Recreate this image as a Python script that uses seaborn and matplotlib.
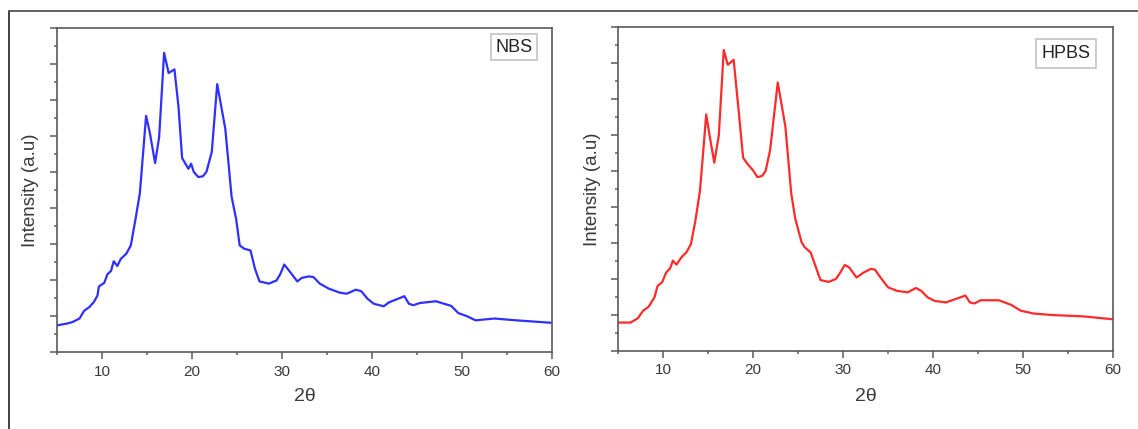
import numpy as np
import pandas as pd
import matplotlib
matplotlib.use("Agg")
import matplotlib.pyplot as plt
import seaborn as sns
from matplotlib.lines import Line2D
from matplotlib.ticker import MultipleLocator

# ---- data ----
nbs_x = [5, 6.1, 6.7, 7.5, 8.0, 8.6, 9.1, 9.5, 9.65, 10.25, 10.6, 11.0, 11.3, 11.7, 12.1,
         12.7, 13.2, 13.7, 14.2, 14.5, 14.9, 15.3, 15.9, 16.35, 16.9, 17.4, 18.05, 18.5,
         18.9, 19.6, 19.9, 20.2, 20.7, 21.2, 21.6, 22.2, 22.8, 23.7, 24.4, 24.9, 25.3,
         25.8, 26.5, 27.0, 27.5, 28.55, 29.4, 29.8, 30.25, 31.0, 31.7, 32.2, 33.0, 33.5,
         34.2, 35.2, 36.4, 37.2, 38.2, 38.8, 39.5, 40.2, 41.3, 41.9, 42.7, 43.6, 44.1,
         44.6, 45.3, 47.1, 48.8, 49.6, 50.6, 51.5, 53.6, 56.0, 60]
nbs_y = [0.74, 0.79, 0.83, 0.93, 1.14, 1.25, 1.39, 1.57, 1.82, 1.92, 2.16, 2.25, 2.52, 2.39,
         2.59, 2.73, 2.96, 3.66, 4.40, 5.32, 6.56, 6.11, 5.25, 5.97, 8.31, 7.75, 7.85, 6.81,
         5.39, 5.09, 5.23, 5.00, 4.86, 4.88, 5.00, 5.56, 7.44, 6.20, 4.31, 3.70, 2.96, 2.87,
         2.82, 2.31, 1.96, 1.90, 1.99, 2.16, 2.43, 2.19, 1.96, 2.06, 2.10, 2.08, 1.90, 1.76,
         1.65, 1.62, 1.73, 1.69, 1.48, 1.34, 1.27, 1.38, 1.46, 1.55, 1.34, 1.30, 1.36, 1.41,
         1.28, 1.08, 0.99, 0.88, 0.93, 0.88, 0.81]

hpbs_x = [5, 6.4, 7.2, 7.8, 8.4, 9.05, 9.4, 9.9, 10.35, 10.8, 11.1, 11.5, 12.1, 12.6, 13.1,
          13.6, 14.1, 14.45, 14.8, 15.2, 15.7, 16.2, 16.75, 17.2, 17.85, 18.4, 18.9, 19.4,
          20.0, 20.5, 21.0, 21.4, 21.9, 22.75, 23.6, 24.25, 24.7, 25.4, 25.75, 26.4, 27.0,
          27.5, 28.4, 29.2, 29.6, 30.2, 30.7, 31.5, 32.3, 33.1, 33.55, 34.2, 35.0, 36.0,
          37.2, 38.1, 38.7, 39.4, 40.2, 41.45, 42.7, 43.6, 44.1, 44.6, 45.3, 47.3, 48.7,
          49.75, 51.2, 53.2, 56.8, 60]
hpbs_y = [0.79, 0.79, 0.91, 1.12, 1.23, 1.49, 1.81, 1.91, 2.18, 2.30, 2.51, 2.40, 2.62, 2.74,
          2.97, 3.62, 4.44, 5.48, 6.57, 5.95, 5.23, 5.99, 8.36, 7.95, 8.09, 6.69, 5.37, 5.19,
          5.02, 4.83, 4.86, 5.00, 5.58, 7.46, 6.23, 4.37, 3.67, 3.02, 2.88, 2.74, 2.32, 1.97,
          1.92, 2.00, 2.14, 2.39, 2.32, 2.04, 2.18, 2.28, 2.26, 2.03, 1.77, 1.67, 1.63, 1.75,
          1.67, 1.49, 1.39, 1.35, 1.46, 1.54, 1.35, 1.32, 1.41, 1.41, 1.28, 1.12, 1.04, 1.00,
          0.96, 0.88]

x_ticks = [10, 20, 30, 40, 50, 60]
x_label = "2θ"
y_label = "Intensity (a.u)"
names = ["NBS", "HPBS"]
colors = ["#2f2fff", "#ff2a2a"]

sns.set_style("ticks")
plt.rcParams['font.family'] = ['Liberation Sans', 'DejaVu Sans']

W, H = 1138, 429
fig = plt.figure(figsize=(W / 100, H / 100), dpi=100)
# (left, right, top, bottom) in pixels
frames = [(57, 552, 28, 352), (618, 1113, 27, 351)]
label_pos = [(0.923, 0.94), (0.905, 0.917)]
label_pad = [0.25, 0.33]
ylab_x = [-0.036, -0.034]

datasets = [(nbs_x, nbs_y), (hpbs_x, hpbs_y)]
spine_col = "#5a5a5a"
text_col = "#3a3a3a"
for i, ((xs, ys), name, col, fr) in enumerate(zip(datasets, names, colors, frames)):
    l, r, t, b = fr
    ax = fig.add_axes([l / W, 1 - b / H, (r - l) / W, (b - t) / H])
    df = pd.DataFrame({"x": xs, "y": ys})
    sns.lineplot(data=df, x="x", y="y", ax=ax, color=col, lw=1.6, sort=False)
    ax.set_xlim(5, 60)
    ax.set_ylim(0, 9)
    ax.set_xticks(x_ticks)
    ax.xaxis.set_minor_locator(MultipleLocator(5))
    ax.yaxis.set_major_locator(MultipleLocator(1))
    ax.yaxis.set_minor_locator(MultipleLocator(0.5))
    ax.tick_params(axis="y", labelleft=False)
    ax.tick_params(axis="both", which="major", direction="out", length=5, width=1.1,
                   color=spine_col, labelsize=11, labelcolor=text_col, pad=4)
    ax.tick_params(axis="both", which="minor", direction="out", length=2.5, width=1.1,
                   color=spine_col)
    for s in ax.spines.values():
        s.set_visible(True)
        s.set_color(spine_col)
        s.set_linewidth(1.2)
    ax.set_xlabel(x_label, fontsize=14, color=text_col)
    ax.set_ylabel(y_label, fontsize=13.5, color=text_col)
    ax.xaxis.set_label_coords(0.5, (b - 388) / (b - t))
    ax.yaxis.set_label_coords(ylab_x[i], 0.5)
    ax.text(label_pos[i][0], label_pos[i][1], name, transform=ax.transAxes,
            ha="center", va="center", fontsize=13, color="#222222",
            bbox=dict(boxstyle=f"square,pad={label_pad[i]}", fc="white", ec="#c4c4c4", lw=1.2))

# outer frame (left and top edges of the original figure border)
fig.add_artist(Line2D([9 / W, 9 / W], [0, 1 - 11 / H], transform=fig.transFigure,
                      color="#333333", lw=1.3))
fig.add_artist(Line2D([9 / W, 1], [1 - 11 / H, 1 - 11 / H], transform=fig.transFigure,
                      color="#555555", lw=1.3))

fig.savefig("out.png", dpi=100)
